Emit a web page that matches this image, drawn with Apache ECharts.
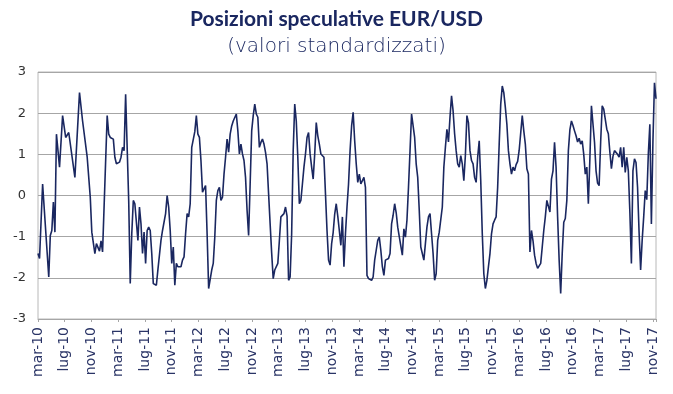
<!DOCTYPE html>
<html>
<head>
<meta charset="utf-8">
<script src="https://cdn.jsdelivr.net/npm/echarts@6/dist/echarts.min.js"></script>
<style>
html,body{margin:0;padding:0;background:#fff;}
#c{width:673px;height:394px;}
</style>
</head>
<body>
<div id="c"></div>
<script>
// Week offsets from the first observation (early March 2010) and standardized values
const weeks = [0,1,3,7,8,9,10,11,12,14,16,18,20,21,24,27,29,32,34,35,36,37,38,39,40,41,42,45,46,47,48,49,50,51,53,54,55,56,57,59,60,61,62,63,65,66,67,68,69,70,71,72,73,74,75,77,78,80,81,83,84,85,86,87,88,89,90,91,92,93,94,95,96,97,98,99,100,101,102,103,104,105,106,107,108,109,110,111,112,113,114,115,116,117,118,119,120,121,122,123,124,125,126,127,129,130,131,132,133,134,135,136,137,138,139,140,141,142,143,144,145,146,147,148,149,150,151,152,153,154,155,156,157,158,160,161,162,163,164,165,166,167,168,169,170,171,172,173,174,175,176,177,178,179,180,181,182,183,184,185,186,187,188,189,190,191,192,193,194,195,196,197,198,199,200,201,202,203,204,205,206,207,208,209,210,211,212,213,214,215,216,217,218,219,220,221,222,223,224,225,226,227,228,229,230,231,232,233,234,235,237,238,239,240,241,242,243,245,246,247,248,249,250,251,252,253,254,255,256,257,258,259,260,261,262,263,264,265,266,267,268,269,270,271,272,273,274,275,276,277,278,279,280,281,282,283,284,285,286,287,288,289,290,291,292,293,294,295,296,297,298,299,300,301,302,303,304,305,306,307,308,309,310,311,312,313,315,316,317,318,319,320,321,322,323,324,325,326,327,328,329,330,331,332,333,334,335,336,337,338,339,340,341,342,343,344,345,346,347,348,349,350,351,352,353,354,355,356,357,358,359,360,361,362,363,364,365,366,367,368,369,370,371,372,373,374,375,376,377,378,379,380,381,382,383,384,385,386,387,388,389,390,391,392,393,394,395,396,397,398,399,400,401,402];
const values = [-1.41,-1.53,0.28,-1.98,-0.97,-0.85,-0.16,-0.89,1.49,0.69,1.94,1.41,1.53,1.49,0.44,2.5,1.81,0.93,-0.04,-0.89,-0.93,-1.41,-1.17,-1.2,-1.35,-1.1,-1.37,1.94,1.49,1.41,1.45,1.37,0.93,0.77,0.81,0.93,1.17,1.09,2.46,-0.12,-2.14,-0.93,-0.12,-0.2,-1.09,-0.28,-0.69,-1.41,-0.89,-1.65,-0.85,-0.77,-0.85,-1.41,-2.14,-2.18,-1.8,-1.09,-0.85,-0.44,0.0,-0.28,-0.85,-1.65,-1.25,-2.18,-1.65,-1.73,-1.77,-1.73,-1.57,-1.49,-0.93,-0.44,-0.52,-0.2,1.17,1.21,1.55,1.94,1.49,1.41,0.85,0.08,0.12,0.24,-0.93,-2.26,-2.26,-1.81,-1.65,-1.01,-0.12,0.12,0.2,-0.12,-0.04,0.52,0.93,1.37,1.05,1.49,1.69,1.81,1.98,1.57,1.01,1.25,1.01,0.85,0.44,-0.36,-0.97,0.28,1.57,1.94,2.22,1.98,1.9,1.17,1.29,1.37,1.25,1.05,0.77,0.04,-0.69,-1.4,-2.02,-1.81,-1.77,-1.65,-1.1,-0.52,-0.44,-0.28,-0.5,-2.06,-1.98,-0.93,1.09,2.22,1.81,0.93,-0.2,-0.12,0.28,0.69,1.01,1.41,1.53,1.01,0.69,0.4,1.01,1.77,1.45,1.25,1.01,1.03,0.93,0.04,-0.85,-1.57,-1.69,-1.17,-0.9,-0.45,-0.2,-0.5,-0.85,-1.21,-0.52,-1.73,-0.93,-0.28,0.28,1.09,1.69,2.02,1.33,0.77,0.32,0.52,0.28,0.24,0.44,0.2,-1.94,-2.02,-1.98,-2.06,-1.98,-1.57,-1.33,-1.09,-1.01,-1.33,-1.73,-1.94,-1.57,-1.57,-1.53,-1.41,-0.69,-0.48,-0.2,-0.42,-0.77,-1.0,-1.45,-0.81,-1.01,-0.6,0.2,1.09,1.98,1.41,0.77,0.44,-0.36,-1.25,-1.29,-1.57,-1.17,-0.77,-0.52,-0.44,-0.93,-1.41,-2.06,-1.9,-1.09,-0.89,-0.93,-0.28,0.69,1.17,1.61,1.3,1.9,2.42,2.06,1.5,1.09,0.77,0.69,0.97,0.77,0.36,0.97,1.94,1.77,1.09,0.85,0.77,0.44,0.32,0.93,1.33,0.36,-0.93,-1.9,-2.26,-2.06,-1.73,-1.41,-0.93,-0.69,-0.6,-0.52,0.2,1.25,2.22,2.66,2.5,2.14,1.73,1.09,0.77,0.52,0.69,0.6,0.75,0.83,1.1,1.94,1.57,1.25,0.65,0.52,-1.37,-0.85,-1.1,-1.45,-1.65,-1.77,-1.77,-1.65,-1.25,-0.85,-0.52,-0.12,-0.16,-0.4,0.4,0.6,1.29,0.69,-0.52,-1.57,-2.38,-1.41,-0.65,-0.56,-0.12,1.09,1.6,1.81,1.7,1.57,1.45,1.3,1.39,1.25,1.33,1.0,0.52,0.69,-0.2,0.9,2.18,2.18,1.3,0.6,0.3,0.24,1.3,2.18,2.1,2.14,1.61,1.5,1.05,0.65,0.95,1.09,1.13,1.0,0.93,1.17,0.69,1.17,0.56,0.93,0.6,-0.4,-1.65,0.6,0.89,0.8,0.2,-0.9,-1.81,-1.09,-0.52,0.12,-0.1,1.0,1.73,-0.69,1.3,2.74,2.35];
// Tick labels every 4 months (17.39 weeks) starting March 2010
const tickLabels = ['mar-10','lug-10','nov-10','mar-11','lug-11','nov-11','mar-12','lug-12','nov-12','mar-13','lug-13','nov-13','mar-14','lug-14','nov-14','mar-15','lug-15','nov-15','mar-16','lug-16','nov-16','mar-17','lug-17','nov-17'];
const weeksPerTick = 17.393;
const lastWeek = 402;
const yTicks = [-3,-2,-1,0,1,2,3];

const navy = '#1a2760';
const chart = echarts.init(document.getElementById('c'), null, {renderer:'canvas'});
const data = weeks.map((w,i)=>[w, values[i]]);
const labelFmt = v => {
  const k = Math.round(v / weeksPerTick);
  if (Math.abs(v - k*weeksPerTick) > 0.5) return '';
  return tickLabels[k] || '';
};
chart.setOption({
  animation:false,
  backgroundColor:'#ffffff',
  title:[
    {text:'Posizioni speculative EUR/USD', left:'center', top:4,
     textStyle:{fontFamily:'Lato', fontWeight:'bold', fontSize:21, color:navy}},
    {text:'(valori standardizzati)', left:'center', top:32,
     textStyle:{fontFamily:'DejaVu Sans', fontWeight:300, fontSize:20, color:'#1a2760'}}
  ],
  grid:{left:38, right:17, top:72, bottom:75, show:true, borderColor:'#b8b8b8', borderWidth:1},
  xAxis:[
    {type:'value', min:0, max:lastWeek, interval:weeksPerTick,
     axisLine:{show:false}, axisTick:{show:false}, splitLine:{show:false},
     axisLabel:{rotate:90, margin:8, fontFamily:'DejaVu Sans', fontSize:14, color:'#2a3466',
                formatter:labelFmt, showMaxLabel:false}},
    {type:'value', min:0, max:lastWeek, interval:weeksPerTick, position:'bottom',
     axisLine:{show:true, onZero:true, lineStyle:{color:'#a6a6a6', width:1}},
     axisTick:{show:true, length:3, lineStyle:{color:'#a6a6a6'}},
     axisLabel:{show:false}, splitLine:{show:false}}
  ],
  yAxis:{type:'value', min:yTicks[0], max:yTicks[yTicks.length-1], interval:1,
     axisLine:{show:false}, axisTick:{show:false},
     splitLine:{lineStyle:{color:'#a6a6a6', width:1}},
     axisLabel:{margin:12, fontFamily:'DejaVu Sans', fontSize:13, color:'#333333'}},
  series:[{type:'line', xAxisIndex:0, data:data, showSymbol:false, symbol:'none',
     lineStyle:{color:navy, width:1.6}, z:5}]
});
</script>
</body>
</html>
